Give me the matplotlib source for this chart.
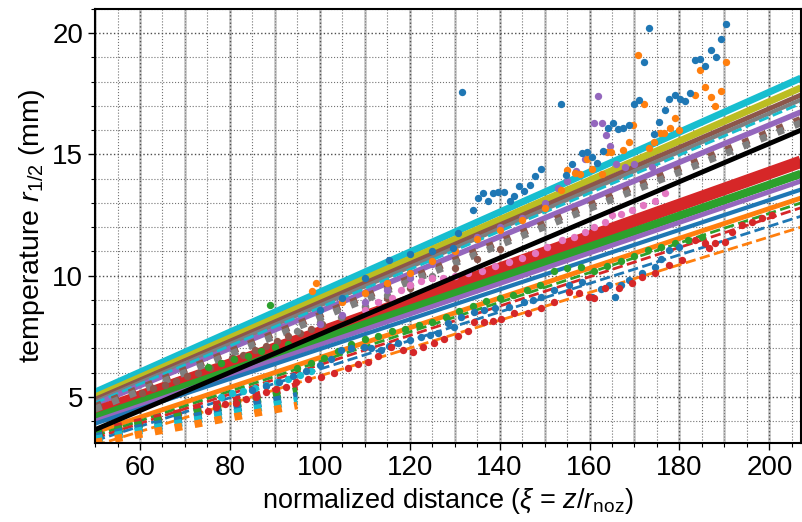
import matplotlib.pyplot as plt
from matplotlib.ticker import MultipleLocator

plt.rcParams['font.family'] = ['Liberation Sans', 'DejaVu Sans']
plt.rcParams['mathtext.fontset'] = 'custom'
plt.rcParams['mathtext.rm'] = 'Liberation Sans'
plt.rcParams['mathtext.it'] = 'Liberation Sans:italic'

# fitted lines, values at both ends of the x range
fit_x = [50, 207]

solid_colors = ['#17becf', '#bcbd22', '#8c564b', '#7f7f7f', '#9467bd',
                '#d62728', '#2ca02c', '#9467bd', '#1f77b4', '#ff7f0e']
solid_y0 = [5.20, 5.00, 4.90, 4.80, 4.70, 4.35, 4.15, 4.00, 3.90, 3.55]
solid_y1 = [18.15, 17.75, 17.45, 17.25, 16.75, 14.70, 14.20, 13.90, 13.55, 13.20]
solid_lw = [5, 5, 3.5, 3, 4, 9, 6, 3.5, 3, 3.5]

dashed_colors = ['#17becf', '#2ca02c', '#d62728', '#1f77b4', '#ff7f0e']
dashed_y0 = [4.75, 3.40, 3.30, 3.20, 3.00]
dashed_y1 = [17.10, 13.00, 12.80, 12.45, 12.00]

# long dotted lines (upper group)
dotted_colors = ['#8c564b', '#7f7f7f']
dotted_y0 = [4.60, 4.50]
dotted_y1 = [16.45, 16.30]

# short dotted lines (lower group, only visible at small distance)
short_x = [50, 95]
short_colors = ['#d62728', '#2ca02c', '#1f77b4', '#17becf', '#ff7f0e']
short_y0 = [3.55, 3.45, 3.35, 3.25, 3.12]
short_y1 = [5.45, 5.25, 5.05, 4.85, 4.65]

black_y = [3.65, 16.00]

# measured points
red_x = [75.2, 76.8, 79.0, 81.3, 83.5, 85.7, 88.0, 90.2, 92.4, 94.6, 97.4, 100.2, 103.1, 106.3,
         108.5, 110.7, 112.9, 115.8, 118.5, 120.8, 123.0, 125.4, 127.7, 130.8, 133.0, 134.4,
         136.6, 138.5, 140.4, 143.3, 146.4, 149.3, 152.2, 155.4, 157.6, 159.8, 160.9, 163.4,
         166.5, 169.4, 171.7, 174.6, 177.7, 180.6, 183.5, 185.7, 186.6, 188.0, 190.2, 191.7,
         194.0, 196.2, 198.4, 200.7]
red_y = [4.40, 4.57, 4.69, 4.77, 4.90, 4.98, 5.19, 5.31, 5.43, 5.60, 5.72, 5.84, 6.00, 6.21,
         6.34, 6.46, 6.67, 7.04, 6.95, 6.87, 7.04, 7.24, 7.37, 7.52, 7.70, 8.10,
         8.10, 8.15, 8.20, 8.48, 8.48, 8.68, 8.93, 9.34, 9.30, 9.14, 9.10, 9.50,
         9.50, 9.71, 9.96, 10.12, 10.45, 10.66, 11.48, 11.36, 11.15, 11.36, 11.40, 11.80,
         12.10, 12.20, 12.40, 12.50]

blue_low_x = [85, 88, 91, 94, 97, 100, 102.5, 104.7, 107, 109.8, 111.5, 113.6, 115.5, 117.4,
              120, 122.5, 124.5, 126.3, 128.6, 129.9, 131.5, 134.4, 136.6, 139, 142, 145.5,
              147.5, 149.3, 152.2, 155.4, 158.3, 160.5, 162.5, 164.3, 165.6, 167, 168.8,
              171.7, 174.6, 176, 177.7, 180]
blue_low_y = [5.30, 5.45, 5.60, 5.85, 6.05, 6.30, 6.55, 6.95, 7.00, 7.08, 7.00, 6.95, 7.10, 7.24,
              7.35, 7.49, 7.55, 7.65, 8.07, 7.90, 8.30, 8.50, 8.60, 8.65, 8.72, 8.90,
              9.00, 9.14, 9.42, 9.63, 9.75, 9.14, 9.45, 9.63, 9.14, 9.60, 9.84,
              10.10, 10.37, 10.70, 11.07, 11.20]

green_low_x = [95, 98, 101, 104, 107, 110, 113, 116, 119, 122, 125, 128, 131, 134, 137, 140,
               143, 146, 149, 152, 155, 158, 161, 164, 167, 170, 173, 176, 179, 182, 185]
green_low_y = [6.20, 6.40, 6.60, 6.90, 7.20, 7.40, 7.50, 7.70, 7.80, 7.95, 8.10, 8.30, 8.55,
               8.75, 8.95, 9.10, 9.20, 9.40, 9.60, 10.20, 10.30, 10.35, 10.20, 10.40, 10.60,
               10.80, 11.05, 11.20, 11.35, 11.48, 11.60]

cyan_low_x = [78, 80.5, 83, 85.5, 88, 90.5, 93, 95.5, 98]
cyan_low_y = [5.00, 5.15, 5.25, 5.35, 5.50, 5.60, 5.72, 5.90, 6.05]

pink_x = [110, 113, 116, 118, 120, 122.5, 125, 127.5, 130, 133, 136, 139, 142, 145, 147.8,
          150.5, 153.8, 156.5, 159, 161, 163.4, 165, 167, 169.4, 172, 174.5, 176.8]
pink_y = [8.60, 8.90, 9.10, 9.40, 9.60, 9.80, 9.90, 9.90, 10.00, 10.10, 10.20, 10.40, 10.55,
          10.75, 10.95, 11.20, 11.48, 11.60, 11.80, 12.00, 12.20, 12.50, 12.55, 12.70, 12.90,
          13.10, 13.40]

blue_top_x = [100, 105, 110, 115.4, 120, 125, 129.7, 130.8, 131.7, 134, 135.3, 136.4, 137.5,
              138.6, 139.7, 141, 142.2, 143.3, 144.4, 145.5, 146.7, 147.8, 149.1, 153.6, 154.7,
              156, 158.3, 159.4, 160.5, 161.6, 162.9, 164.1, 165.2, 166.3, 167.4, 168.8, 169.9,
              171, 172.1, 173.2, 174.3, 175.4, 176.8, 177.7, 179, 180.1, 181.2, 182.4, 183.5,
              184.6, 185.7, 187, 188.2, 189.3, 190.4]
blue_top_y = [8.60, 9.10, 9.90, 10.66, 10.90, 11.00, 11.15, 11.77, 17.57, 12.70, 13.20, 13.40,
              13.10, 13.40, 13.45, 13.45, 13.10, 13.30, 13.70, 13.50, 13.75, 14.10, 14.40, 17.10,
              14.15, 14.60, 15.05, 15.10, 14.90, 14.65, 15.15, 16.10, 16.30, 16.05, 16.10, 16.20,
              17.10, 17.25, 18.80, 20.20, 15.85, 16.35, 16.85, 17.30, 17.45, 17.30, 17.20, 17.55,
              18.90, 18.95, 18.65, 19.30, 19.00, 19.75, 20.40]

orange_top_x = [98.2, 99.1, 105, 110, 115, 120, 125, 130, 135, 140, 145, 150, 153.6, 154.9,
                156.7, 157.8, 159.4, 160.5, 162.7, 163.8, 164.7, 167.4, 168.8, 169.6, 170.8,
                172.1, 173.2, 174.3, 175.7, 176.6, 177.9, 179, 179.9, 183.5, 184.6, 185.7, 187,
                188, 189.3, 190.4]
orange_top_y = [9.35, 9.70, 8.90, 9.30, 9.70, 10.10, 10.60, 11.00, 11.50, 11.90, 12.30, 12.80,
                13.55, 14.35, 14.25, 14.20, 14.80, 14.40, 14.20, 15.10, 15.10, 15.20, 15.50,
                16.20, 19.10, 17.10, 15.25, 15.50, 15.90, 15.90, 16.10, 16.50, 16.00, 17.45,
                18.50, 17.80, 17.35, 17.00, 17.60, 18.80]

purple_x = [100, 105, 110, 115, 120, 125, 130, 135, 140, 145, 150, 153, 155, 157, 159, 160.9,
            161.8, 162.7, 163.6, 164.5, 166, 168, 170, 173.9]
purple_y = [8.00, 8.40, 8.90, 9.40, 9.90, 10.50, 11.00, 11.60, 12.00, 12.40, 13.00, 13.60,
            13.90, 14.30, 14.80, 16.30, 17.40, 16.30, 15.80, 15.35, 14.60, 14.50, 14.60, 14.50]

brown_x = [60.5, 63, 65.5, 68, 70.5, 73, 75.5, 78, 80.5, 83, 85.5, 88, 90.5, 93, 95.5, 98,
           100.5, 105, 110, 115, 120, 125, 130, 135, 140]
brown_y = [5.18, 5.35, 5.50, 5.65, 5.85, 6.00, 6.20, 6.40, 6.60, 6.75, 6.95, 7.10, 7.30, 7.50,
           7.65, 7.80, 8.00, 8.30, 8.70, 9.10, 9.50, 9.90, 10.30, 10.70, 11.10]

gray_x = [95, 100, 104.7, 110, 115, 120, 125]
gray_y = [7.70, 8.10, 8.30, 8.75, 9.20, 9.60, 10.00]

green_up_x = [75.2, 78, 81, 84, 87, 89, 90, 93]
green_up_y = [6.25, 6.40, 6.55, 6.70, 6.90, 8.80, 7.05, 7.20]

fig = plt.figure(figsize=(8.02, 5.22), dpi=100)
ax = fig.add_axes([0.1185, 0.1513, 0.880, 0.8315])

for v in range(50, 210, 10):
    ax.axvline(v, color='0.8', lw=2, zorder=0)

for c, a, b, w in zip(solid_colors, solid_y0, solid_y1, solid_lw):
    ax.plot(fit_x, [a, b], color=c, lw=w, solid_capstyle='butt')
for c, a, b in zip(dashed_colors, dashed_y0, dashed_y1):
    ax.plot(fit_x, [a, b], color=c, lw=2, ls='--')
for c, a, b in zip(dotted_colors, dotted_y0, dotted_y1):
    ax.plot(fit_x, [a, b], color=c, lw=5, ls=':')
for c, a, b in zip(short_colors, short_y0, short_y1):
    ax.plot(short_x, [a, b], color=c, lw=5.5, ls=':')

series = [
    (brown_x, brown_y, '#8c564b'),
    (gray_x, gray_y, '#7f7f7f'),
    (green_up_x, green_up_y, '#2ca02c'),
    (purple_x, purple_y, '#9467bd'),
    (orange_top_x, orange_top_y, '#ff7f0e'),
    (blue_top_x, blue_top_y, '#1f77b4'),
    (pink_x, pink_y, '#e377c2'),
    (cyan_low_x, cyan_low_y, '#17becf'),
    (green_low_x, green_low_y, '#2ca02c'),
    (blue_low_x, blue_low_y, '#1f77b4'),
    (red_x, red_y, '#d62728'),
]
for sx, sy, c in series:
    ax.scatter(sx, sy, s=28, color=c, zorder=3, linewidths=0)

ax.plot(fit_x, black_y, color='k', lw=3.5, zorder=4)

ax.set_xlim(50, 207)
ax.set_ylim(3.1, 21.0)
ax.xaxis.set_major_locator(MultipleLocator(20))
ax.xaxis.set_minor_locator(MultipleLocator(5))
ax.yaxis.set_major_locator(MultipleLocator(5))
ax.yaxis.set_minor_locator(MultipleLocator(1))
ax.grid(which='major', ls=':', color='0.3', lw=1)
ax.grid(which='minor', ls=':', color='0.45', lw=0.8)
ax.set_axisbelow(True)
ax.tick_params(which='major', direction='out', length=5, width=1, labelsize=20, colors='k')
ax.tick_params(which='minor', direction='out', length=3, width=0.8)
for s in ax.spines.values():
    s.set_linewidth(1.5)

ax.set_xlabel(r'normalized distance ($\xi$ = $z$/$r_{\rm noz}$)', fontsize=19.5)
ax.set_ylabel(r'temperature $r_{1/2}$ (mm)', fontsize=20.5)

fig.savefig('out.png', dpi=100)
